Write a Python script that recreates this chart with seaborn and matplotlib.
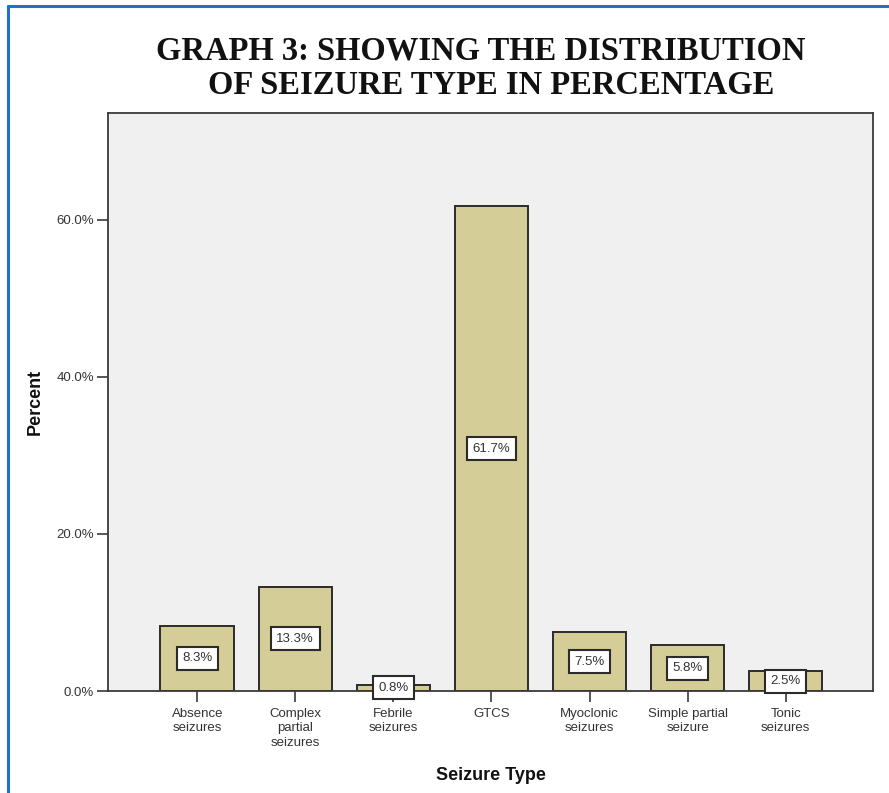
import matplotlib
matplotlib.use("Agg")
import matplotlib.pyplot as plt
from matplotlib.lines import Line2D
import seaborn as sns
import pandas as pd

categories = ["Absence\nseizures", "Complex\npartial\nseizures", "Febrile\nseizures",
              "GTCS", "Myoclonic\nseizures", "Simple partial\nseizure", "Tonic\nseizures"]
percent = [8.3, 13.3, 0.8, 61.7, 7.5, 5.8, 2.5]
y_ticks = [0, 20, 40, 60]
y_tick_labels = ["0.0%", "20.0%", "40.0%", "60.0%"]
title_lines = ["GRAPH 3: SHOWING THE DISTRIBUTION", "OF SEIZURE TYPE IN PERCENTAGE"]

sns.set_theme(style="white")
plt.rcParams["font.family"] = ["Liberation Sans", "DejaVu Sans"]

df = pd.DataFrame({"type": categories, "pct": percent})

fig = plt.figure(figsize=(8.89, 7.93), dpi=100)
ax = fig.add_axes([108 / 889, 1 - 691 / 793, (873 - 108) / 889, (691 - 113) / 793])
ax.set_facecolor("#f0f0f0")

sns.barplot(data=df, x="type", y="pct", ax=ax, color="#d4cd97",
            edgecolor="#2b2b2b", linewidth=1.4, width=0.75, saturation=1)

ax.set_xlim(-0.91, 6.89)
ax.set_ylim(0, 73.6)
ax.set_yticks(y_ticks)
ax.set_yticklabels(y_tick_labels)

for i, v in enumerate(percent):
    ax.text(i, v / 2, f"{v:.1f}%", ha="center", va="center", fontsize=9.5,
            color="#333333",
            bbox=dict(boxstyle="square,pad=0.42", facecolor="white",
                      edgecolor="#2b2b2b", linewidth=1.5), zorder=5)

for s in ax.spines.values():
    s.set_color("#3a3a3a")
    s.set_linewidth(1.3)

ax.tick_params(axis="y", length=8, width=1.2, color="#3a3a3a",
               labelsize=9.5, labelcolor="#333333", direction="out", left=True, pad=2)
ax.tick_params(axis="x", length=8, width=1.2, color="#3a3a3a",
               labelsize=9.5, labelcolor="#333333", direction="out", bottom=True, pad=4)
for lbl in ax.get_xticklabels():
    lbl.set_linespacing(1.3)

ax.set_xlabel("Seizure Type", fontsize=13, fontweight="bold", color="#111111")
ax.set_ylabel("Percent", fontsize=13, fontweight="bold", color="#111111")
ax.xaxis.set_label_coords(0.5, -0.132)
ax.yaxis.set_label_coords(-0.084, 0.5)

# two-line title, second line set slightly to the right
title_font = dict(family=["Liberation Serif", "DejaVu Serif"], fontweight="bold",
                  fontsize=23.5, color="#111111", ha="center", va="center")
fig.text(481 / 889, 1 - 51 / 793, title_lines[0], **title_font)
fig.text(491 / 889, 1 - 86 / 793, title_lines[1], **title_font)

# blue frame lines along the top and left edges
fig.add_artist(Line2D([8 / 889, 1], [1 - 6 / 793, 1 - 6 / 793],
                      transform=fig.transFigure, color="#1f72c4", linewidth=2.2))
fig.add_artist(Line2D([8 / 889, 8 / 889], [0, 1 - 6 / 793],
                      transform=fig.transFigure, color="#1f72c4", linewidth=2.2))

fig.savefig("out.png", dpi=100, facecolor="white")
